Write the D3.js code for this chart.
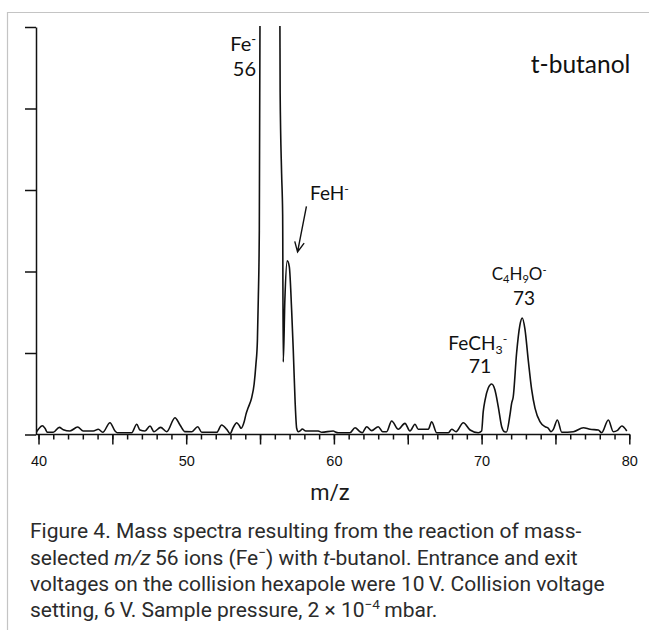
<!DOCTYPE html>
<html><head><meta charset="utf-8">
<script src="https://cdn.jsdelivr.net/npm/d3@7"></script>
<style>body{margin:0;background:#fff}</style>
</head><body>
<svg id="chart" width="649" height="630"></svg>
<script>
// ---- data (m/z vs relative intensity) ----
const mzValues = [39.83,39.99,40.26,40.44,40.60,41.00,41.41,41.68,42.13,42.65,43.03,43.71,44.05,44.35,44.84,45.18,45.34,46.31,46.65,46.87,47.21,47.55,47.82,48.27,48.68,49.24,49.58,49.92,50.37,50.78,51.05,52.07,52.40,52.74,52.97,53.19,53.42,53.60,53.71,53.93,54.05,54.20,54.43,54.60,54.72,54.82,54.88,54.95,55.00,55.70,56.34,56.36,56.46,56.53,56.57,56.68,56.84,56.98,57.14,57.25,57.37,57.48,57.59,57.72,57.86,58.09,58.94,59.17,59.96,60.07,60.30,61.09,61.43,61.77,61.92,62.22,62.56,63.00,63.30,63.57,63.91,64.36,64.81,65.15,65.49,65.71,66.39,66.62,66.96,67.75,67.98,68.27,68.76,69.22,69.78,70.00,70.11,70.23,70.45,70.68,70.90,71.13,71.36,71.55,71.68,71.92,72.03,72.14,72.37,72.59,72.75,72.93,73.16,73.39,73.62,73.95,74.29,74.52,74.70,74.85,75.13,75.43,76.21,76.89,77.34,77.90,78.13,78.58,78.92,79.20,79.49,79.83];
const intensityValues = [0.020,0.064,0.108,0.076,0.027,0.027,0.088,0.059,0.043,0.092,0.043,0.043,0.064,0.027,0.145,0.043,0.022,0.022,0.125,0.055,0.043,0.104,0.034,0.088,0.034,0.206,0.117,0.035,0.034,0.096,0.027,0.027,0.117,0.064,0.010,0.088,0.145,0.108,0.076,0.160,0.250,0.330,0.450,0.620,0.860,1.150,1.650,2.500,5.300,9.000,5.300,4.200,3.200,2.700,0.890,1.650,2.130,2.060,1.520,1.030,0.420,0.076,0.034,0.045,0.067,0.043,0.043,0.027,0.043,0.034,0.022,0.022,0.083,0.034,0.022,0.096,0.047,0.096,0.034,0.034,0.166,0.064,0.137,0.043,0.125,0.064,0.064,0.157,0.022,0.022,0.064,0.034,0.145,0.055,0.022,0.043,0.280,0.420,0.570,0.620,0.550,0.340,0.096,0.034,0.030,0.240,0.380,0.460,1.000,1.340,1.430,1.300,0.910,0.550,0.320,0.157,0.096,0.076,0.034,0.060,0.178,0.027,0.034,0.083,0.064,0.055,0.022,0.178,0.034,0.050,0.104,0.043];
const xTickLabels = [40, 50, 60, 70, 80];
const yTickValues = [0, 1, 2, 3, 4, 5];
const xLabel = "m/z";
const sampleLabel = "t-butanol";
const captionLines = [
  [{t:"Figure 4. Mass spectra resulting from the reaction of mass-"}],
  [{t:"selected "},{t:"m/z",i:1},{t:"\u200956 ions (Fe"},{t:"\u2212",sup:1},{t:") with "},{t:"t",i:1},{t:"-butanol. Entrance and exit"}],
  [{t:"voltages on the collision hexapole were 10\u2009V. Collision voltage"}],
  [{t:"setting, 6\u2009V. Sample pressure, 2 \u00d7 10"},{t:"\u22124",sup:1},{t:"\u2009mbar."}]
];

// ---- scales ----
const svg = d3.select("#chart");
const x = d3.scaleLinear().domain([40, 80]).range([38.5, 629.3]);
const y = d3.scaleLinear().domain([0, 5]).range([434.5, 27]);

// frame
svg.append("path").attr("d","M7.5,630V12.5H649").attr("fill","none").attr("stroke","#c4c4c4").attr("stroke-width",1.2);

// rich text helper
function rich(sel, segs, fs, subShift) {
  let shift = 0;
  segs.forEach(s => {
    const ts = sel.append("tspan").text(s.t);
    const target = s.sup ? -fs*0.36 : s.sub ? fs*(subShift||0.22) : 0;
    const dy = target - shift;
    if (dy) ts.attr("dy", dy);
    shift = target;
    if (s.sup || s.sub) ts.attr("font-size", fs*0.65);
    if (s.i) ts.attr("font-style","italic");
  });
}

// axes
const axisCol = "#111";
const yAxis = svg.append("g").attr("transform",`translate(36,0)`)
  .call(d3.axisLeft(y).tickValues(yTickValues).tickFormat("").tickSize(11).tickSizeOuter(0));
yAxis.selectAll("path,line").attr("stroke",axisCol).attr("stroke-width",1.5);

const xMinor = svg.append("g").attr("transform",`translate(0,${y(0)})`)
  .call(d3.axisBottom(x).tickValues(d3.range(40,81)).tickFormat("").tickSize(5).tickSizeOuter(0));
xMinor.select(".domain").remove();
xMinor.selectAll("line").attr("stroke",axisCol).attr("stroke-width",1.5);
const xMajor = svg.append("g").attr("transform",`translate(0,${y(0)})`)
  .call(d3.axisBottom(x).tickValues(d3.range(40,81,5)).tickFormat(d => xTickLabels.includes(d) ? d : "").tickSize(10).tickPadding(11.5).tickSizeOuter(0));
xMajor.select(".domain").remove();
xMajor.selectAll("line").attr("stroke",axisCol).attr("stroke-width",1.5);
xMajor.selectAll("text").attr("font-family","'Liberation Sans', Arial, sans-serif").attr("font-size",14.5).attr("fill","#111");
svg.append("line").attr("x1",36).attr("x2",x(80)+0.7).attr("y1",y(0)).attr("y2",y(0)).attr("stroke",axisCol).attr("stroke-width",1.6);

// trace
svg.append("clipPath").attr("id","clip").append("rect").attr("x",36).attr("y",y(5)-1).attr("width",610).attr("height",420);
const pts = mzValues.map((m,i)=>[m,intensityValues[i]]);
svg.append("path").datum(pts).attr("clip-path","url(#clip)")
  .attr("d", d3.line().x(d=>x(d[0])).y(d=>y(d[1])).curve(d3.curveMonotoneX))
  .attr("fill","none").attr("stroke","#111").attr("stroke-width",1.6).attr("stroke-linejoin","round");

// labels
const lf = "Lato, 'Open Sans', sans-serif";
function label(mzPos, iPos, segs, fs, anchor, subShift) {
  const t = svg.append("text").attr("x", x(mzPos)).attr("y", y(iPos))
    .attr("font-family", lf).attr("font-size", fs).attr("fill","#111").attr("text-anchor", anchor||"start");
  rich(t, segs, fs, subShift);
  return t;
}
label(54.73, 4.70, [{t:"Fe"},{t:"-",sup:1}], 20, "end");
label(54.73, 4.40, [{t:"56"}], 20, "end");
label(73.33, 4.44, [{t:sampleLabel}], 24.5, "start");
label(58.38, 2.88, [{t:"FeH"},{t:"-",sup:1}], 19, "start");
label(70.68, 1.89, [{t:"C"},{t:"4",sub:1},{t:"H"},{t:"9",sub:1},{t:"O"},{t:"-",sup:1}], 17, "start", 0.16);
label(72.87, 1.585, [{t:"73"}], 19, "middle");
label(67.75, 1.04, [{t:"FeCH"},{t:"3",sub:1},{t:"-",sup:1}], 19, "start");
label(69.89, 0.755, [{t:"71"}], 19.5, "middle");

// arrow
const ax0 = x(58.14), ay0 = y(2.80), ax1 = x(57.54), ay1 = y(2.24);
const ang = Math.atan2(ay1-ay0, ax1-ax0), hl = 11;
const h1 = [ax1 - hl*Math.cos(ang-0.45), ay1 - hl*Math.sin(ang-0.45)];
const h2 = [ax1 - hl*Math.cos(ang+0.45), ay1 - hl*Math.sin(ang+0.45)];
svg.append("path").attr("d",`M${ax0},${ay0}L${ax1},${ay1}M${h1[0]},${h1[1]}L${ax1},${ay1}L${h2[0]},${h2[1]}`)
  .attr("fill","none").attr("stroke","#111").attr("stroke-width",1.4);

// x axis title
svg.append("text").attr("x",330).attr("y",500).attr("text-anchor","middle")
  .attr("font-family","Roboto, sans-serif").attr("font-size",22).attr("fill","#1a1a1a").text(xLabel);

// caption
const capG = svg.append("g").attr("font-family","Roboto, sans-serif").attr("fill","#2b2b2b");
const capFs = 21;
captionLines.forEach((segs, i) => {
  const t = capG.append("text").attr("x",30).attr("y",538.3 + i*26.2).attr("font-size",capFs);
  rich(t, segs, capFs);
});
</script>
</body></html>
